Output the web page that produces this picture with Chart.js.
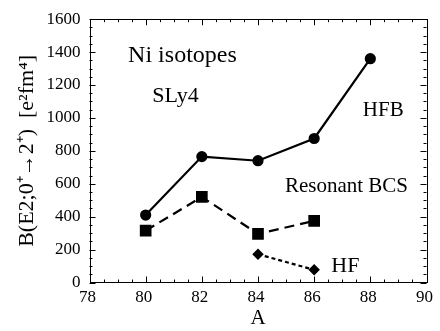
<!DOCTYPE html>
<html><head><meta charset="utf-8">
<script src="https://cdn.jsdelivr.net/npm/chart.js@4.4.1/dist/chart.umd.min.js"></script>
<style>html,body{margin:0;padding:0;background:#fff}#wrap{width:440px;height:331px}</style>
</head><body><div id="wrap"><canvas id="c" width="440" height="331"></canvas></div>
<script>
const massA = [80, 82, 84, 86, 88];
const hfbValues = [410, 765, 740, 875, 1360];
const bcsA = [80, 82, 84, 86];
const bcsValues = [315, 520, 295, 375];
const hfA = [84, 86];
const hfValues = [172, 77];
const xTicks = [78, 80, 82, 84, 86, 88, 90];
const yTicks = [0, 200, 400, 600, 800, 1000, 1200, 1400, 1600];
const labels = [
  {text: 'Ni isotopes', x: 81.31, y: 1378, size: 24},
  {text: 'SLy4', x: 81.06, y: 1132, size: 22},
  {text: 'HFB', x: 88.46, y: 1045, size: 21},
  {text: 'Resonant BCS', x: 87.15, y: 584, size: 21},
  {text: 'HF', x: 87.11, y: 100, size: 22}
];
const FONT = '"Liberation Serif", "Times New Roman", serif';

function pts(xs, ys){ return xs.map((x,i)=>({x:x, y:ys[i]})); }

const framePlugin = {
  id: 'frame',
  afterDraw(chart){
    const ctx = chart.ctx, a = chart.chartArea;
    const xs = chart.scales.x, ys = chart.scales.y;
    ctx.save();
    ctx.strokeStyle = '#000'; ctx.lineWidth = 1;
    ctx.strokeRect(Math.round(a.left)+0.5, Math.round(a.top)+0.5, Math.round(a.right-a.left), Math.round(a.bottom-a.top));
    ctx.beginPath();
    for (let v = xs.min; v <= xs.max + 1e-6; v += 0.5) {
      const px = Math.round(xs.getPixelForValue(v)) + 0.5;
      const len = (Math.abs(v % 2) < 1e-6) ? 6 : 3;
      ctx.moveTo(px, a.bottom); ctx.lineTo(px, a.bottom - len);
      ctx.moveTo(px, a.top); ctx.lineTo(px, a.top + len);
    }
    for (let v = ys.min; v <= ys.max + 1e-6; v += 50) {
      const py = Math.round(ys.getPixelForValue(v)) + 0.5;
      const len = (v % 200 === 0) ? 6 : 3;
      ctx.moveTo(a.left, py); ctx.lineTo(a.left + len, py);
      ctx.moveTo(a.right, py); ctx.lineTo(a.right - len, py);
    }
    ctx.stroke();
    ctx.fillStyle = '#000';
    ctx.textAlign = 'center'; ctx.textBaseline = 'middle';
    labels.forEach(l => {
      ctx.font = l.size + 'px ' + FONT;
      ctx.fillText(l.text, xs.getPixelForValue(l.x), ys.getPixelForValue(l.y));
    });
    ctx.restore();
  }
};

new Chart(document.getElementById('c'), {
  type: 'scatter',
  data: {
    datasets: [
      {label: 'HFB', data: pts(massA, hfbValues), showLine: true, borderColor: '#000', backgroundColor: '#000',
       borderWidth: 2.2, pointStyle: 'circle', pointRadius: 4.5},
      {label: 'Resonant BCS', data: pts(bcsA, bcsValues), showLine: true, borderColor: '#000', backgroundColor: '#000',
       borderWidth: 2.2, borderDash: [10, 6], pointStyle: 'rect', pointRadius: 6.7},
      {label: 'HF', data: pts(hfA, hfValues), showLine: true, borderColor: '#000', backgroundColor: '#000',
       borderWidth: 2.2, borderDash: [4, 3], pointStyle: 'rectRot', pointRadius: 4.2}
    ]
  },
  options: {
    responsive: false, animation: false, devicePixelRatio: 1,
    layout: {padding: {left: 0, right: 12, top: 15, bottom: 0}},
    plugins: {legend: {display: false}, tooltip: {enabled: false}},
    scales: {
      x: {
        type: 'linear', min: 78, max: 90,
        grid: {display: false, drawTicks: false}, border: {display: false},
        afterBuildTicks(s){ s.ticks = xTicks.map(v=>({value:v})); },
        afterFit(s){ s.height = 48.5; },
        ticks: {color: '#000', font: {family: FONT, size: 17}, padding: 5, maxRotation: 0, labelOffset: -2,
                callback: v => String(v)},
        title: {display: true, text: 'A', color: '#000', font: {family: FONT, size: 21}, padding: {top: 0, bottom: 0}}
      },
      y: {
        type: 'linear', min: 0, max: 1600,
        grid: {display: false, drawTicks: false}, border: {display: false},
        afterBuildTicks(s){ s.ticks = yTicks.map(v=>({value:v})); },
        afterFit(s){ s.width = 89.5; },
        ticks: {color: '#000', font: {family: FONT, size: 17}, padding: 9, callback: v => String(v)},
        title: {display: true, text: 'B(E2;0\u207A\u21922\u207A)  [e\u00B2fm\u2074]', color: '#000', font: {family: FONT, size: 22}, padding: {top: 14, bottom: 0}}
      }
    }
  },
  plugins: [framePlugin]
});
</script></body></html>
